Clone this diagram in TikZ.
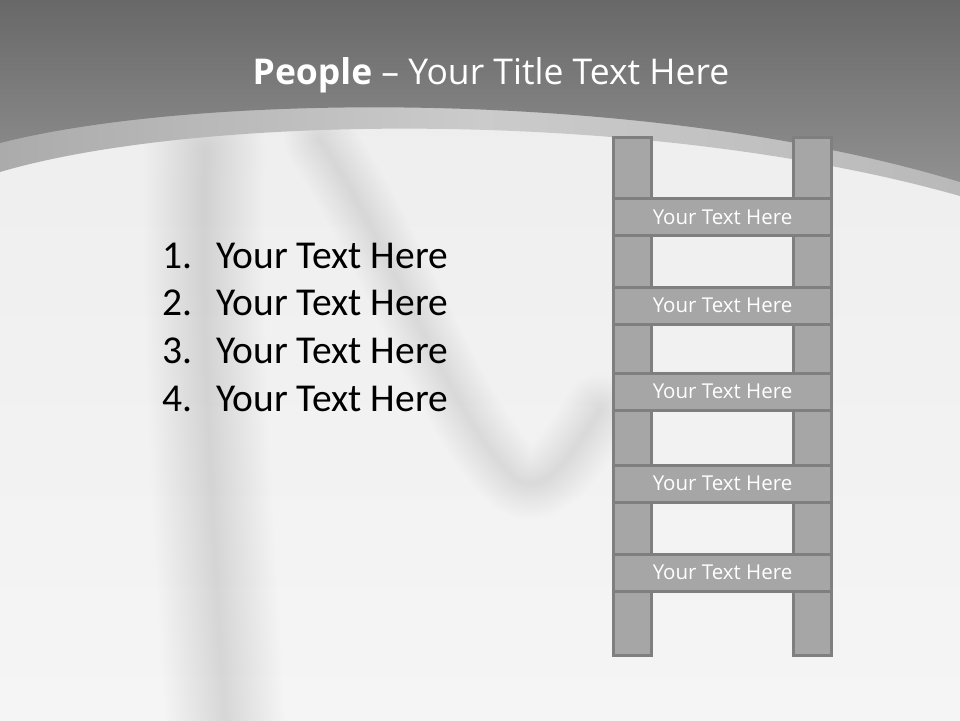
\documentclass[tikz,border=0pt]{standalone}
\usepackage{fontspec}
\setmainfont{Open Sans}
\newfontfamily\listfont{Carlito}
\definecolor{darkhdr}{HTML}{909090}
\definecolor{tophdr}{HTML}{686868}
\definecolor{bandA}{HTML}{ABABAB}
\definecolor{bandB}{HTML}{CBCBCB}
\definecolor{bandC}{HTML}{B9B9B9}
\definecolor{bgA}{HTML}{EDEDED}
\definecolor{bgB}{HTML}{F5F5F5}
\definecolor{ladfill}{HTML}{A6A6A6}
\definecolor{ladline}{HTML}{7F7F7F}
\tikzset{
  railbox/.style={draw=ladline, fill=ladfill, line width=3pt, minimum width=38pt, inner sep=0pt},
  rungbox/.style={draw=ladline, fill=ladfill, line width=3pt, minimum width=218pt, minimum height=37pt, inner sep=0pt,
    text=white, font=\fontsize{20.5}{24}\selectfont},
  listitem/.style={anchor=west, inner sep=0pt, font=\listfont\fontsize{39.5}{46}\selectfont, text=black},
  softshadow/.style={draw=black, line cap=round, line join=round, draw opacity=#1},
}
\begin{document}
\begin{tikzpicture}[x=1pt,y=-1pt]
\useasboundingbox (0,0) rectangle (960,720);
% content background
\shade[top color=bgA, bottom color=bgB] (0,0) rectangle (960,720);
% soft blurred shapes of the photo
\foreach \w in {4,8,...,120}{
  \draw[softshadow=0.0035, line width=\w pt] (205,150) .. controls (200,350) and (215,550) .. (225,720);
}
\foreach \w in {3,6,...,72}{
  \draw[softshadow=0.0045, line width=\w pt] (320,140) .. controls (400,260) and (450,420) .. (515,478)
     .. controls (545,500) and (575,450) .. (600,410);
}
% light band
\shade[left color=bandA, right color=bandC, middle color=bandB]
  (0,0) -- (0,172) .. controls (200,113) and (650,108) .. (960,196) -- (960,0) -- cycle;
% dark header
\shade[top color=tophdr, bottom color=darkhdr]
  (0,0) -- (0,143) .. controls (200,92) and (650,88) .. (960,182) -- (960,0) -- cycle;
% title
\node[text=white, font=\fontsize{35.5}{42}\selectfont] (title) at (491,75)
  {\textbf{People} -- Your Title Text Here};
% list
\foreach \n/\yy in {1/256,2/303,3/351,4/399}{
  \node[listitem] (num\n) at (162,\yy) {\n.};
  \node[listitem] (item\n) at (216,\yy) {Your Text Here};
}
% ladder rails
\node[railbox, minimum height=518pt] (railL) at (632.5,396) {};
\node[railbox, minimum height=518pt] (railR) at (812.5,396) {};
% rungs
\node[rungbox] (rung1) at (722.5,217) {Your Text Here};
\node[rungbox] (rung2) at (722.5,305.5) {Your Text Here};
\node[rungbox] (rung3) at (722.5,391.5) {Your Text Here};
\node[rungbox] (rung4) at (722.5,483.5) {Your Text Here};
\node[rungbox] (rung5) at (722.5,572.5) {Your Text Here};
\end{tikzpicture}
\end{document}
